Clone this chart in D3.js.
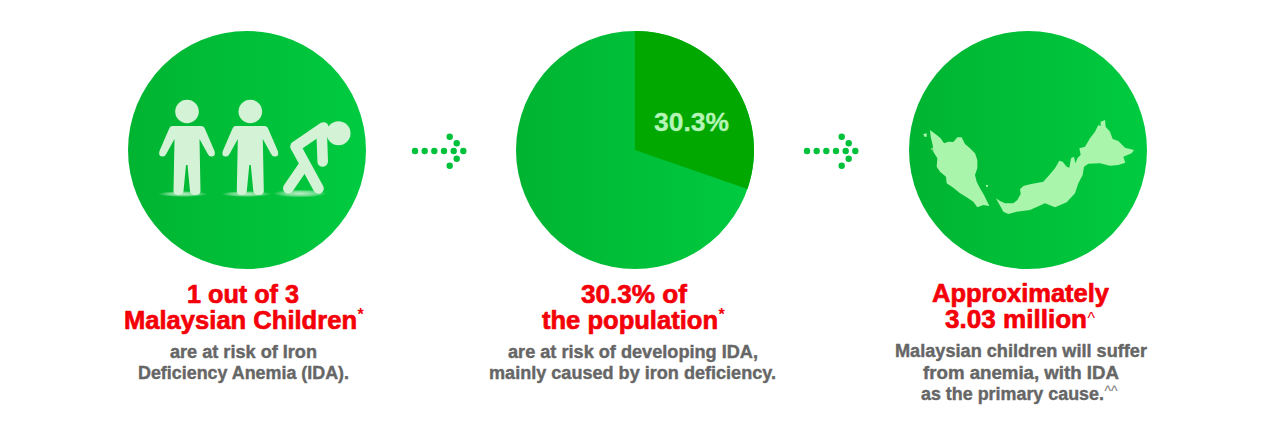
<!DOCTYPE html>
<html lang="en">
<head>
  <meta charset="UTF-8">
  <title>Iron Deficiency Anemia in Malaysia</title>
  <style>
    html, body { margin: 0; padding: 0; background: #fff; overflow: hidden; }
    text { font-family: "Liberation Sans", Arial, sans-serif; font-weight: bold; stroke-linejoin: round; }
  </style>
</head>
<body>
<div id="chart"></div>

<script src="https://d3js.org/d3.v7.min.js"></script>
<script>
  // values
  const sliceLabels = ['at risk', 'rest'];
  const sliceValues = [30.3, 69.7];
  const sliceText = '30.3%';

  // text of the three columns
  const headings = [
    ['1 out of 3', 'Malaysian Children'],
    ['30.3% of', 'the population'],
    ['Approximately', '3.03 million']
  ];
  const headingMarks = ['*', '*', '^'];
  const bodies = [
    ['are at risk of Iron', 'Deficiency Anemia (IDA).'],
    ['are at risk of developing IDA,', 'mainly caused by iron deficiency.'],
    ['Malaysian children will suffer', 'from anemia, with IDA', 'as the primary cause.']
  ];
  const bodyMarks = ['', '', '^^'];

  const width = 1280, height = 427;
  const radius = 119, centerY = 150;
  const centers = [247, 635, 1028];

  const svg = d3.select('#chart').append('svg')
    .attr('width', width)
    .attr('height', height)
    .style('display', 'block');

  const defs = svg.append('defs');

  const disc = defs.append('linearGradient').attr('id', 'disc');
  disc.append('stop').attr('offset', '0%').attr('stop-color', '#00b431');
  disc.append('stop').attr('offset', '100%').attr('stop-color', '#00cb40');

  const glow = defs.append('radialGradient').attr('id', 'glow');
  glow.append('stop').attr('offset', '0%').attr('stop-color', '#d4f2d6').attr('stop-opacity', 0.9);
  glow.append('stop').attr('offset', '60%').attr('stop-color', '#d4f2d6').attr('stop-opacity', 0.5);
  glow.append('stop').attr('offset', '100%').attr('stop-color', '#d4f2d6').attr('stop-opacity', 0);

  // green discs
  svg.selectAll('circle.disc')
    .data(centers)
    .enter()
    .append('circle')
    .attr('class', 'disc')
    .attr('cx', d => d)
    .attr('cy', centerY)
    .attr('r', radius)
    .attr('fill', 'url(#disc)');

  // pie slice in the middle disc
  const pie = d3.pie().sort(null)(sliceValues);
  const arc = d3.arc().innerRadius(0).outerRadius(radius);
  const pieGroup = svg.append('g').attr('transform', `translate(${centers[1]},${centerY})`);
  pieGroup.selectAll('path')
    .data(pie)
    .enter()
    .append('path')
    .attr('d', arc)
    .attr('fill', (d, i) => i === 0 ? '#00a800' : 'none');
  svg.append('text')
    .attr('x', 654)
    .attr('y', 130.5)
    .attr('textLength', 75)
    .attr('lengthAdjust', 'spacingAndGlyphs')
    .attr('font-size', 25.5)
    .attr('fill', '#b4f4b6')
    .attr('stroke', '#b4f4b6')
    .attr('stroke-width', 0.3)
    .text(sliceText);

  // people icons, drawn in the frame of the first disc
  const iconFill = '#d4f2d6';
  const people = svg.append('g');
  [0, 63.3].forEach(dx => {
    const p = people.append('g').attr('transform', `translate(${dx},0)`);
    p.append('ellipse').attr('cx', 183).attr('cy', 194).attr('rx', 25).attr('ry', 3).attr('fill', 'url(#glow)');
    p.append('circle').attr('cx', 187).attr('cy', 111.5).attr('r', 11.8).attr('fill', iconFill);
    p.append('path')
      .attr('d', 'M172,126 L201,126 Q204,126 205,129 L214.5,151 Q216,156 212,156.5 Q209,157 207.5,153.5 L199.5,139 L200.5,191 Q200.5,195 195,195 Q190.5,195 190,191 L187.5,165 L186,165 L183.5,191 Q183,195 178.5,195 Q173.5,195 173.5,191 L174.5,139 L166.5,153.5 Q165,157 162,156.5 Q158,156 159.5,151 L169,129 Q170,126 172,126 Z')
      .attr('fill', iconFill);
  });
  const bent = svg.append('g');
  bent.append('ellipse').attr('cx', 300).attr('cy', 193.5).attr('rx', 27).attr('ry', 4).attr('fill', 'url(#glow)');
  bent.append('circle').attr('cx', 338.5).attr('cy', 133.3).attr('r', 12).attr('fill', iconFill);
  bent.selectAll('line')
    .data([[323.5, 127.5, 295.7, 146.5], [321.7, 133, 322.7, 161.5], [295.7, 146.7, 318.5, 188.5], [303, 166.7, 288.3, 188.3]])
    .enter()
    .append('line')
    .attr('x1', d => d[0]).attr('y1', d => d[1])
    .attr('x2', d => d[2]).attr('y2', d => d[3])
    .attr('stroke', iconFill)
    .attr('stroke-width', 10.6)
    .attr('stroke-linecap', 'round');

  // map of Malaysia (crops at 3x)
  const mapLine = (ox, oy) => d3.line().x(d => ox + d[0] / 3).y(d => oy + d[1] / 3);
  const westShapes = [
    [[30,30],[38,36],[50,45],[62,55],[72,70],[85,65],[100,66],[112,52],[125,52],[135,72],[150,85],[165,100],[172,120],[172,145],[165,165],[170,185],[180,205],[192,225],[208,258],[190,255],[172,262],[160,245],[140,232],[118,218],[100,203],[80,190],[78,170],[60,155],[50,140],[52,115],[40,95],[38,75],[32,50]],
    [[10,42],[20,40],[20,50],[13,50]],
    [[32,85],[38,85],[38,93]],
    [[198,195],[204,195],[204,200],[198,200]]
  ];
  const eastShape = [[-42,250],[-30,258],[-15,265],[10,265],[22,255],[32,237],[30,223],[40,213],[60,208],[100,200],[118,180],[135,160],[148,137],[158,140],[170,155],[178,158],[183,130],[192,125],[196,145],[203,128],[212,120],[208,100],[225,95],[240,70],[255,50],[265,30],[272,33],[272,20],[285,15],[287,35],[300,50],[308,72],[325,78],[345,98],[372,105],[365,115],[340,125],[346,143],[325,150],[300,152],[270,145],[235,146],[222,155],[218,180],[205,205],[195,235],[170,262],[135,277],[105,265],[60,285],[20,290],[-5,297],[-20,290]];
  const mapGroup = svg.append('g').attr('fill', '#a9f5ab');
  mapGroup.selectAll('path.west')
    .data(westShapes)
    .enter()
    .append('path')
    .attr('class', 'west')
    .attr('d', d => mapLine(920, 120)(d) + 'Z');
  mapGroup.append('path').attr('d', mapLine(1010, 115)(eastShape) + 'Z');

  // dotted arrows
  const dots = [[415, 151], [424.7, 151], [434.3, 151], [444, 151], [453.7, 151], [463.3, 151],
    [449.7, 136.7], [456.7, 143.3], [456.7, 158.7], [449.7, 165.7]];
  [0, 392].forEach(dx => {
    svg.append('g')
      .attr('transform', `translate(${dx},0)`)
      .selectAll('circle')
      .data(dots)
      .enter()
      .append('circle')
      .attr('cx', d => d[0])
      .attr('cy', d => d[1])
      .attr('r', 3.2)
      .attr('fill', '#00c13b');
  });

  // headings and descriptions, left edge, width and baseline measured on the picture
  const headingBox = [
    [[187, 112, 302.7], [124, 233, 329.3]],
    [[581, 106, 302.7], [542, 176, 329.3]],
    [[932, 177, 301.7], [945, 142, 328]]
  ];
  const bodyBox = [
    [[170, 147, 357.7], [138, 211, 379]],
    [[508, 250, 357.7], [489, 287, 379]],
    [[895, 252, 357], [923, 196, 378.7], [921, 183, 400]]
  ];

  function putLines(lines, boxes, size, color, sw) {
    lines.forEach((line, i) => {
      svg.append('text')
        .attr('x', boxes[i][0])
        .attr('y', boxes[i][2])
        .attr('textLength', boxes[i][1])
        .attr('lengthAdjust', 'spacingAndGlyphs')
        .attr('font-size', size)
        .attr('fill', color)
        .attr('stroke', color)
        .attr('stroke-width', sw)
        .text(line);
    });
  }

  function putMark(mark, box, size, rise, weight, color) {
    if (!mark) return;
    svg.append('text')
      .attr('x', box[0] + box[1] + 0.5)
      .attr('y', box[2] - rise)
      .attr('font-size', size)
      .style('font-weight', weight)
      .attr('fill', color)
      .text(mark);
  }

  headings.forEach((lines, c) => {
    putLines(lines, headingBox[c], 26.5, '#f40008', 0.7);
    const isStar = headingMarks[c] === '*';
    putMark(headingMarks[c], headingBox[c][1], 16, isStar ? 9 : 4.5, isStar ? 'bold' : 'normal', '#f40008');
  });
  bodies.forEach((lines, c) => {
    putLines(lines, bodyBox[c], 18, '#666666', 0.4);
    putMark(bodyMarks[c], bodyBox[c][lines.length - 1], 14, 3.6, 'normal', '#777777');
  });
</script>
</body>
</html>
